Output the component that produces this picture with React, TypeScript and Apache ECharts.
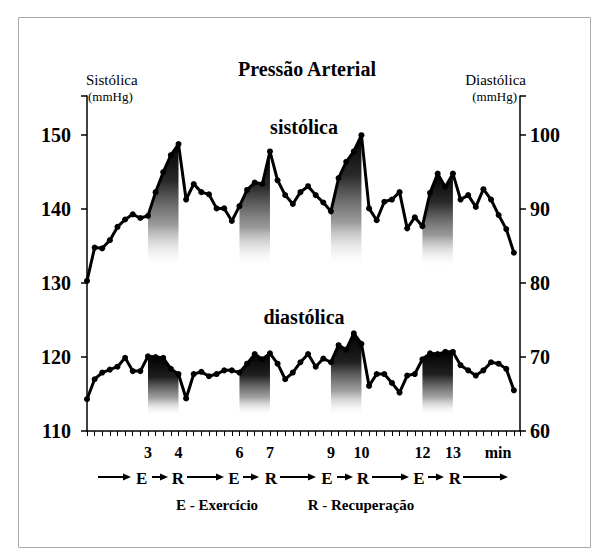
import React, { useEffect, useRef } from "react";
import * as echarts from "echarts";

// Blood pressure readings every 15 s, starting at minute 1
const startMin = 1;
const stepMin = 0.25;
const systolic = [
  130.3, 134.8, 134.7, 135.8, 137.6, 138.6, 139.3, 138.8, 139.1, 142.3, 145.0, 147.3, 148.8,
  141.3, 143.4, 142.3, 142.0, 140.1, 140.1, 138.4, 140.4, 142.6, 143.6, 143.4, 147.8, 143.9,
  141.9, 140.7, 142.3, 143.1, 141.9, 140.9, 139.7, 144.2, 146.4, 147.8, 150.0, 140.1, 138.5,
  141.0, 141.3, 142.3, 137.4, 138.9, 137.7, 142.2, 144.8, 143.0, 144.8, 141.3, 141.9, 140.3,
  142.7, 141.3, 139.2, 137.3, 134.1,
];
const diastolic = [
  64.3, 67.0, 67.9, 68.3, 68.7, 69.9, 68.1, 68.1, 70.1, 70.0, 69.9, 68.4, 67.7, 64.4, 67.7,
  68.0, 67.4, 67.7, 68.2, 68.2, 67.9, 69.1, 70.4, 69.7, 70.5, 69.1, 67.0, 67.9, 69.3, 70.4,
  68.7, 69.8, 69.3, 71.6, 71.0, 73.2, 71.8, 66.1, 67.7, 67.7, 66.5, 65.2, 67.5, 67.7, 69.7,
  70.5, 70.4, 70.7, 70.7, 68.9, 68.2, 67.5, 68.2, 69.3, 69.1, 68.4, 65.5,
];
// exercise periods in minutes
const exercisePeriods = [
  [3, 4],
  [6, 7],
  [9, 10],
  [12, 13],
];
const minuteLabels = [3, 4, 6, 7, 9, 10, 12, 13];
const leftTicks = [110, 120, 130, 140, 150];
const rightTicks = [60, 70, 80, 90, 100];
const systolicShadeBase = 132;
const diastolicShadeBase = 62;

const FONT = "'Liberation Serif', 'DejaVu Serif', serif";

const timeOf = (i: number) => startMin + i * stepMin;

export default function App() {
  const ref = useRef<HTMLDivElement>(null);
  useEffect(() => {
    document.body.style.margin = "0";
    if (!ref.current) return;
    const chart = echarts.init(ref.current, undefined, { renderer: "svg" });

    const sysData = systolic.map((v, i) => [timeOf(i), v]);
    const diaData = diastolic.map((v, i) => [timeOf(i), v]);

    const gradSys = () =>
      new echarts.graphic.LinearGradient(0, 0, 0, 1, [
        { offset: 0, color: "rgba(0,0,0,1)" },
        { offset: 0.3, color: "rgba(30,30,30,0.95)" },
        { offset: 0.65, color: "rgba(110,110,110,0.7)" },
        { offset: 1, color: "rgba(255,255,255,0)" },
      ]);
    const gradDia = () =>
      new echarts.graphic.LinearGradient(0, 0, 0, 1, [
        { offset: 0, color: "rgba(0,0,0,1)" },
        { offset: 0.35, color: "rgba(20,20,20,0.95)" },
        { offset: 0.7, color: "rgba(110,110,110,0.65)" },
        { offset: 1, color: "rgba(255,255,255,0)" },
      ]);

    const shadeSeries: any[] = [];
    exercisePeriods.forEach(([a, b]) => {
      const inRange = (p: number[]) => p[0] >= a - 1e-9 && p[0] <= b + 1e-9;
      shadeSeries.push({
        type: "line",
        yAxisIndex: 0,
        data: sysData.filter(inRange),
        symbol: "none",
        lineStyle: { width: 0 },
        areaStyle: { origin: systolicShadeBase, color: gradSys(), opacity: 1 },
        z: 1,
        silent: true,
      });
      shadeSeries.push({
        type: "line",
        yAxisIndex: 1,
        data: diaData.filter(inRange),
        symbol: "none",
        lineStyle: { width: 0 },
        areaStyle: { origin: diastolicShadeBase, color: gradDia(), opacity: 1 },
        z: 1,
        silent: true,
      });
    });

    const arrowY = 477;
    const longArrows = [
      [98, 131],
      [187, 224],
      [280, 316],
      [372, 409],
      [463, 508],
    ];
    const shortArrows = [
      [152, 168],
      [243, 259],
      [337, 353],
      [428, 444],
    ];
    const arrowEls: any[] = [];
    [...longArrows, ...shortArrows].forEach(([x1, x2]) => {
      arrowEls.push({
        type: "line",
        shape: { x1, y1: arrowY, x2: x2 - 5, y2: arrowY },
        style: { stroke: "#000", lineWidth: 2 },
      });
      arrowEls.push({
        type: "polygon",
        shape: {
          points: [
            [x2, arrowY],
            [x2 - 8, arrowY - 3.5],
            [x2 - 8, arrowY + 3.5],
          ],
        },
        style: { fill: "#000" },
      });
    });
    const eX = [141.7, 234, 327, 419];
    const rX = [178, 271, 363, 455];
    const letterEls: any[] = [];
    eX.forEach((x) =>
      letterEls.push({
        type: "text",
        x,
        y: arrowY + 1,
        style: { text: "E", font: `bold 17px ${FONT}`, fill: "#000", align: "center", verticalAlign: "middle" },
      })
    );
    rX.forEach((x) =>
      letterEls.push({
        type: "text",
        x,
        y: arrowY + 1,
        style: { text: "R", font: `bold 17px ${FONT}`, fill: "#000", align: "center", verticalAlign: "middle" },
      })
    );

    const txt = (text: string, x: number, y: number, font: string, align = "center") => ({
      type: "text",
      x,
      y,
      style: { text, font, fill: "#000", align, verticalAlign: "middle" },
    });

    chart.setOption({
      animation: false,
      grid: { left: 87, right: 76, top: 96, bottom: 119, containLabel: false },
      xAxis: {
        type: "value",
        min: startMin,
        max: 15.2,
        interval: stepMin,
        axisLine: { show: true, lineStyle: { color: "#000", width: 1.5 } },
        axisTick: { show: true, length: 5, lineStyle: { color: "#000", width: 1 } },
        splitLine: { show: false },
        axisLabel: {
          interval: 0,
          margin: 13,
          color: "#000",
          fontFamily: FONT,
          fontWeight: "bold",
          fontSize: 16,
          formatter: (v: number) => (minuteLabels.some((m) => Math.abs(m - v) < 1e-6) ? String(Math.round(v)) : ""),
        },
      },
      yAxis: [
        {
          type: "value",
          min: 110,
          max: 155.3,
          interval: 10,
          position: "left",
          axisLine: { show: true, lineStyle: { color: "#000", width: 1.5 } },
          axisTick: { show: true, length: 6, lineStyle: { color: "#000", width: 1.5 } },
          splitLine: { show: false },
          axisLabel: {
            margin: 16,
            color: "#000",
            fontFamily: FONT,
            fontWeight: "bold",
            fontSize: 20,
            formatter: (v: number) => (leftTicks.includes(v) ? String(v) : ""),
          },
        },
        {
          type: "value",
          min: 60,
          max: 105.3,
          interval: 10,
          position: "right",
          axisLine: { show: true, lineStyle: { color: "#000", width: 1.5 } },
          axisTick: { show: true, length: 6, lineStyle: { color: "#000", width: 1.5 } },
          splitLine: { show: false },
          axisLabel: {
            margin: 10,
            color: "#000",
            fontFamily: FONT,
            fontWeight: "bold",
            fontSize: 20,
            formatter: (v: number) => (rightTicks.includes(v) ? String(v) : ""),
          },
        },
      ],
      series: [
        ...shadeSeries,
        {
          type: "line",
          name: "sistólica",
          yAxisIndex: 0,
          data: sysData,
          symbol: "circle",
          symbolSize: 6,
          itemStyle: { color: "#000" },
          lineStyle: { color: "#000", width: 3 },
          z: 3,
        },
        {
          type: "line",
          name: "diastólica",
          yAxisIndex: 1,
          data: diaData,
          symbol: "circle",
          symbolSize: 6,
          itemStyle: { color: "#000" },
          lineStyle: { color: "#000", width: 3 },
          z: 3,
        },
      ],
      graphic: [
        {
          type: "rect",
          shape: { x: 18.5, y: 17.5, width: 572, height: 530 },
          style: { fill: "none", stroke: "#aaa", lineWidth: 1 },
          silent: true,
        },
        txt("Pressão Arterial", 307, 69, `bold 20px ${FONT}`),
        txt("Sistólica", 86, 80, `15px ${FONT}`, "left"),
        txt("(mmHg)", 88, 96, `13px ${FONT}`, "left"),
        txt("Diastólica", 526, 80, `15px ${FONT}`, "right"),
        txt("(mmHg)", 517, 96, `13px ${FONT}`, "right"),
        txt("sistólica", 304, 127, `bold 20px ${FONT}`),
        txt("diastólica", 304, 317, `bold 20px ${FONT}`),
        txt("min", 498, 452, `bold 16px ${FONT}`),
        ...arrowEls,
        ...letterEls,
        txt("E - Exercício", 217, 505, `bold 15px ${FONT}`),
        txt("R - Recuperação", 361, 505, `bold 15px ${FONT}`),
      ],
    });
    return () => chart.dispose();
  }, []);
  return <div ref={ref} style={{ width: 596, height: 550 }} />;
}
